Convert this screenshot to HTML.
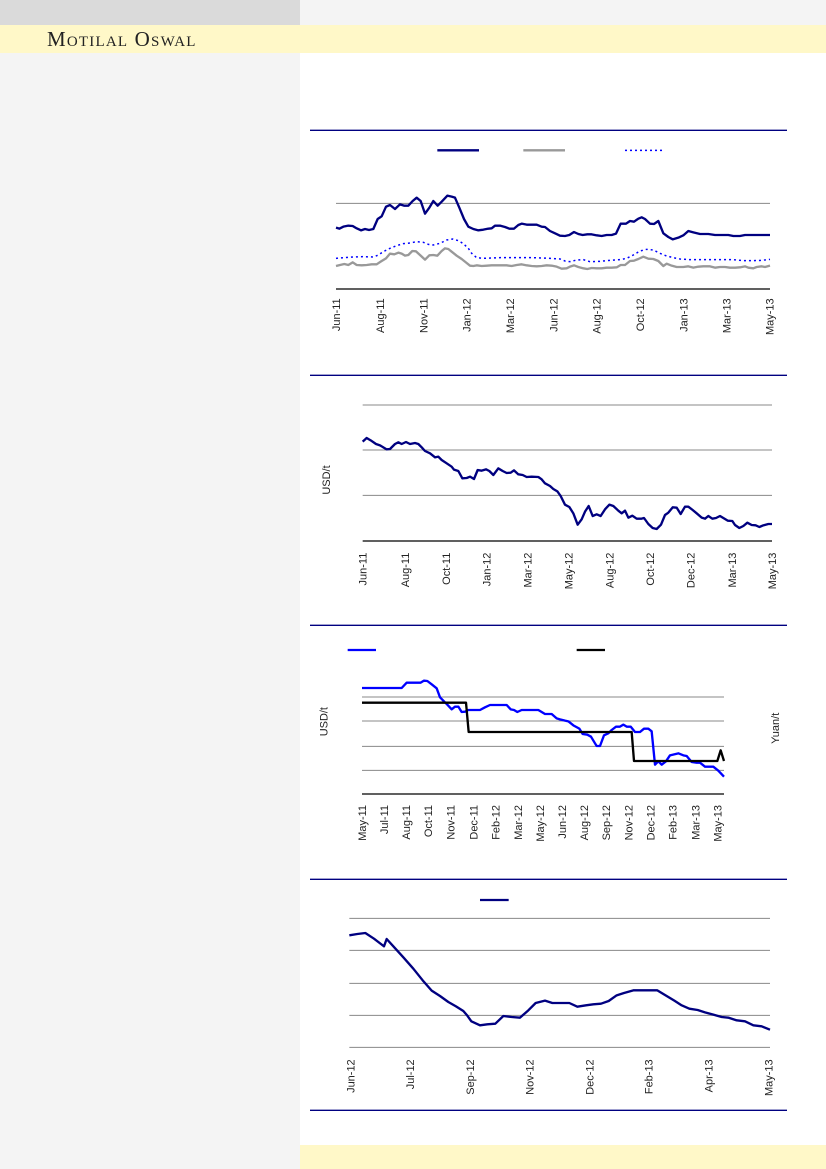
<!DOCTYPE html>
<html>
<head>
<meta charset="utf-8">
<style>
  html,body{margin:0;padding:0;}
  body{width:826px;height:1169px;position:relative;overflow:hidden;background:#ffffff;font-family:"Liberation Sans",sans-serif;}
  .abs{position:absolute;}
  .brand{position:absolute;left:47px;top:27px;font-family:"Liberation Serif",serif;font-size:21px;font-variant:small-caps;letter-spacing:1.2px;color:#222;line-height:24px;}
  svg{position:absolute;left:0;top:0;}
</style>
</head>
<body>
<div class="abs" style="left:0;top:0;width:300px;height:25px;background:#dadada;"></div>
<div class="abs" style="left:300px;top:0;width:526px;height:25px;background:#f4f4f4;"></div>
<div class="abs" style="left:0;top:25px;width:826px;height:28px;background:#fff8c8;"></div>
<div class="brand">Motilal Oswal</div>
<div class="abs" style="left:0;top:53px;width:300px;height:1116px;background:#f4f4f4;"></div>
<div class="abs" style="left:300px;top:1145px;width:526px;height:24px;background:#fff8c8;"></div>

<svg width="826" height="1169" viewBox="0 0 826 1169" xmlns="http://www.w3.org/2000/svg">
  <!-- separator rules -->
  <g stroke="#000080" stroke-width="1.3">
    <line x1="310" y1="130.3" x2="787" y2="130.3"/>
    <line x1="310" y1="375.3" x2="787" y2="375.3"/>
    <line x1="310" y1="625.3" x2="787" y2="625.3"/>
    <line x1="310" y1="879.3" x2="787" y2="879.3"/>
    <line x1="310" y1="1110.3" x2="787" y2="1110.3"/>
  </g>

  <!-- CHART 1 -->
  <g transform="translate(300,125) scale(0.333333)" font-family="Liberation Sans, sans-serif" font-size="33" fill="#222">
    <line x1="412" y1="76" x2="537" y2="76" stroke="#000080" stroke-width="7"/>
    <line x1="670" y1="76" x2="795" y2="76" stroke="#999999" stroke-width="7"/>
    <line x1="975" y1="76" x2="1095" y2="76" stroke="#0000ff" stroke-width="4.5" stroke-dasharray="6 9"/>
    <line x1="108" y1="235" x2="1410" y2="235" stroke="#888888" stroke-width="3"/>
    <line x1="108" y1="492" x2="1410" y2="492" stroke="#000" stroke-width="4"/>
    <polyline fill="none" stroke="#0000ff" stroke-width="4.5" stroke-dasharray="6 9" points="108,400 130,398 160,396 190,395 220,396 235,390 250,380 270,370 290,362 310,356 330,354 350,350 370,352 385,358 400,360 420,355 440,345 458,342 475,347 490,356 505,370 515,385 530,398 550,400 600,398 650,398 700,398 750,400 780,402 795,408 810,410 830,405 850,404 870,410 900,409 930,406 960,404 980,400 1000,390 1020,378 1040,373 1060,375 1080,385 1100,393 1120,398 1140,402 1170,404 1200,404 1250,404 1300,404 1330,407 1360,407 1385,406 1410,403"/>
    <polyline fill="none" stroke="#999999" stroke-width="7" stroke-linejoin="round" points="108,423 120,420 133,417 145,420 158,412 170,420 185,421 200,420 215,418 230,418 245,408 258,400 270,386 283,388 295,383 305,386 315,392 325,390 337,378 348,379 362,392 375,404 388,391 400,390 412,392 425,378 435,370 445,372 455,380 470,392 485,402 500,414 510,422 520,423 530,421 545,423 560,422 575,421 600,421 620,421 635,423 650,420 665,418 680,421 695,423 710,424 725,423 740,421 755,422 770,425 785,431 800,430 810,425 822,421 835,426 850,430 862,432 875,429 890,430 905,430 920,428 935,428 950,427 962,420 975,420 990,408 1002,407 1015,402 1030,395 1045,401 1060,402 1075,408 1090,423 1100,416 1115,422 1130,426 1150,426 1165,424 1180,428 1195,425 1210,424 1230,424 1245,428 1260,426 1275,426 1290,428 1305,428 1320,427 1335,424 1345,428 1360,430 1370,426 1385,424 1395,426 1410,422"/>
    <polyline fill="none" stroke="#000080" stroke-width="7" stroke-linejoin="round" points="108,308 118,311 130,305 145,302 158,303 170,310 183,316 195,312 207,315 220,312 233,282 245,274 258,245 270,240 285,252 300,238 312,242 325,242 338,228 350,218 362,228 375,266 388,248 400,228 413,242 425,230 442,212 455,215 465,218 478,248 492,282 505,305 520,312 535,316 550,314 565,311 575,310 585,302 600,302 615,306 628,311 642,311 655,300 665,296 680,299 695,299 710,299 725,305 735,306 750,318 765,325 780,332 795,333 808,330 822,321 835,327 848,330 862,328 875,328 890,331 905,333 920,330 935,330 948,326 962,296 978,296 990,288 1002,290 1015,281 1025,277 1035,282 1050,296 1062,297 1075,288 1090,325 1105,336 1118,343 1135,338 1150,331 1165,318 1180,322 1200,327 1225,327 1245,330 1265,330 1285,330 1300,333 1320,333 1335,330 1360,330 1385,330 1410,330"/>
    <g text-anchor="end">
      <text transform="translate(120,520) rotate(-90)">Jun-11</text>
      <text transform="translate(252,520) rotate(-90)">Aug-11</text>
      <text transform="translate(382,520) rotate(-90)">Nov-11</text>
      <text transform="translate(512,520) rotate(-90)">Jan-12</text>
      <text transform="translate(642,520) rotate(-90)">Mar-12</text>
      <text transform="translate(772,520) rotate(-90)">Jun-12</text>
      <text transform="translate(902,520) rotate(-90)">Aug-12</text>
      <text transform="translate(1032,520) rotate(-90)">Oct-12</text>
      <text transform="translate(1162,520) rotate(-90)">Jan-13</text>
      <text transform="translate(1292,520) rotate(-90)">Mar-13</text>
      <text transform="translate(1420,520) rotate(-90)">May-13</text>
    </g>
  </g>

  <!-- CHART 2 -->
  <g transform="translate(300,370) scale(0.333333)" font-family="Liberation Sans, sans-serif" font-size="33" fill="#222">
    <g stroke="#888888" stroke-width="3">
      <line x1="188" y1="105" x2="1416" y2="105"/>
      <line x1="188" y1="240" x2="1416" y2="240"/>
      <line x1="188" y1="376" x2="1416" y2="376"/>
    </g>
    <line x1="188" y1="513" x2="1416" y2="513" stroke="#000" stroke-width="4"/>
    <polyline fill="none" stroke="#000080" stroke-width="7" stroke-linejoin="round" points="188,215 200,204 212,211 228,222 240,226 250,232 260,238 270,237 285,222 295,217 305,222 318,216 330,222 345,219 355,222 365,232 375,243 390,250 405,262 415,260 425,270 440,280 455,290 462,299 475,303 487,325 500,324 510,320 522,327 533,300 545,302 558,298 568,303 580,315 595,295 608,303 620,309 632,308 642,301 655,313 668,315 680,321 695,320 715,321 725,328 735,340 750,348 760,357 772,364 782,378 795,404 808,411 820,430 833,464 845,448 855,425 866,408 878,438 890,433 902,438 915,418 928,404 940,408 955,422 965,430 975,422 985,443 997,437 1010,446 1025,446 1032,444 1045,462 1058,474 1070,477 1083,464 1095,435 1105,428 1118,412 1130,413 1142,432 1155,410 1165,410 1178,420 1190,430 1205,443 1215,446 1225,438 1237,446 1248,444 1260,438 1270,444 1283,452 1297,453 1305,465 1318,474 1330,468 1342,458 1355,465 1367,466 1378,471 1390,466 1405,462 1416,462"/>
    <text transform="translate(90,330) rotate(-90)" text-anchor="middle">USD/t</text>
    <g text-anchor="end">
      <text transform="translate(200,548) rotate(-90)">Jun-11</text>
      <text transform="translate(327,548) rotate(-90)">Aug-11</text>
      <text transform="translate(450,548) rotate(-90)">Oct-11</text>
      <text transform="translate(572,548) rotate(-90)">Jan-12</text>
      <text transform="translate(695,548) rotate(-90)">Mar-12</text>
      <text transform="translate(818,548) rotate(-90)">May-12</text>
      <text transform="translate(940,548) rotate(-90)">Aug-12</text>
      <text transform="translate(1062,548) rotate(-90)">Oct-12</text>
      <text transform="translate(1184,548) rotate(-90)">Dec-12</text>
      <text transform="translate(1308,548) rotate(-90)">Mar-13</text>
      <text transform="translate(1428,548) rotate(-90)">May-13</text>
    </g>
  </g>

  <!-- CHART 3 -->
  <g transform="translate(300,620) scale(0.333333)" font-family="Liberation Sans, sans-serif" font-size="33" fill="#222">
    <line x1="143" y1="90" x2="228" y2="90" stroke="#0000ff" stroke-width="7"/>
    <line x1="830" y1="90" x2="915" y2="90" stroke="#000" stroke-width="7"/>
    <g stroke="#888888" stroke-width="3">
      <line x1="186" y1="231" x2="1272" y2="231"/>
      <line x1="186" y1="303" x2="1272" y2="303"/>
      <line x1="186" y1="379" x2="1272" y2="379"/>
      <line x1="186" y1="451" x2="1272" y2="451"/>
    </g>
    <line x1="186" y1="522" x2="1272" y2="522" stroke="#000" stroke-width="4"/>
    <polyline fill="none" stroke="#0000ff" stroke-width="7" stroke-linejoin="round" points="186,204 200,204 250,204 305,204 320,188 340,188 362,188 372,182 382,183 395,193 410,205 420,232 430,242 442,254 455,268 465,260 475,260 485,276 495,275 505,270 520,270 540,270 555,262 570,255 590,255 620,255 632,268 642,270 652,276 665,270 690,270 715,270 735,282 755,282 770,295 780,298 795,302 805,304 820,316 838,326 848,342 862,344 873,350 885,370 890,378 900,378 912,346 925,340 935,330 948,320 960,320 970,314 980,320 992,320 1005,336 1020,336 1032,326 1045,326 1055,334 1065,434 1075,424 1085,434 1098,424 1110,406 1135,400 1150,406 1160,408 1175,426 1190,428 1200,428 1215,440 1240,440 1255,452 1272,470"/>
    <polyline fill="none" stroke="#000" stroke-width="7" stroke-linejoin="round" points="186,248 498,248 506,336 995,336 1002,423 1252,423 1262,391 1272,423"/>
    <text transform="translate(82,305) rotate(-90)" text-anchor="middle">USD/t</text>
    <text transform="translate(1437,325) rotate(-90)" text-anchor="middle">Yuan/t</text>
    <g text-anchor="end">
      <text transform="translate(198,555) rotate(-90)">May-11</text>
      <text transform="translate(264,555) rotate(-90)">Jul-11</text>
      <text transform="translate(330,555) rotate(-90)">Aug-11</text>
      <text transform="translate(396,555) rotate(-90)">Oct-11</text>
      <text transform="translate(464,555) rotate(-90)">Nov-11</text>
      <text transform="translate(532,555) rotate(-90)">Dec-11</text>
      <text transform="translate(598,555) rotate(-90)">Feb-12</text>
      <text transform="translate(666,555) rotate(-90)">Mar-12</text>
      <text transform="translate(732,555) rotate(-90)">May-12</text>
      <text transform="translate(798,555) rotate(-90)">Jun-12</text>
      <text transform="translate(864,555) rotate(-90)">Aug-12</text>
      <text transform="translate(930,555) rotate(-90)">Sep-12</text>
      <text transform="translate(998,555) rotate(-90)">Nov-12</text>
      <text transform="translate(1064,555) rotate(-90)">Dec-12</text>
      <text transform="translate(1130,555) rotate(-90)">Feb-13</text>
      <text transform="translate(1198,555) rotate(-90)">Mar-13</text>
      <text transform="translate(1264,555) rotate(-90)">May-13</text>
    </g>
  </g>

  <!-- CHART 4 -->
  <g transform="translate(300,870) scale(0.333333)" font-family="Liberation Sans, sans-serif" font-size="33" fill="#222">
    <line x1="540" y1="90" x2="626" y2="90" stroke="#000080" stroke-width="7"/>
    <g stroke="#888888" stroke-width="3">
      <line x1="148" y1="145" x2="1410" y2="145"/>
      <line x1="148" y1="241" x2="1410" y2="241"/>
      <line x1="148" y1="340" x2="1410" y2="340"/>
      <line x1="148" y1="436" x2="1410" y2="436"/>
      <line x1="148" y1="532" x2="1410" y2="532"/>
    </g>
    <polyline fill="none" stroke="#000080" stroke-width="7" stroke-linejoin="round" points="148,196 172,192 196,189 222,206 252,229 260,207 280,229 310,262 340,296 368,331 395,362 420,378 445,396 468,409 490,423 502,437 514,454 540,466 562,463 586,461 610,438 635,441 660,443 685,421 707,399 735,392 757,399 782,399 808,399 832,410 858,406 880,403 903,401 926,393 950,376 972,369 1000,361 1025,361 1050,361 1072,361 1100,378 1123,392 1145,406 1168,416 1193,420 1215,427 1240,434 1265,441 1285,443 1310,451 1335,454 1360,466 1385,469 1410,479"/>
    <g text-anchor="end">
      <text transform="translate(164,568) rotate(-90)">Jun-12</text>
      <text transform="translate(342,568) rotate(-90)">Jul-12</text>
      <text transform="translate(522,568) rotate(-90)">Sep-12</text>
      <text transform="translate(700,568) rotate(-90)">Nov-12</text>
      <text transform="translate(880,568) rotate(-90)">Dec-12</text>
      <text transform="translate(1057,568) rotate(-90)">Feb-13</text>
      <text transform="translate(1237,568) rotate(-90)">Apr-13</text>
      <text transform="translate(1417,568) rotate(-90)">May-13</text>
    </g>
  </g>
</svg>
</body>
</html>
